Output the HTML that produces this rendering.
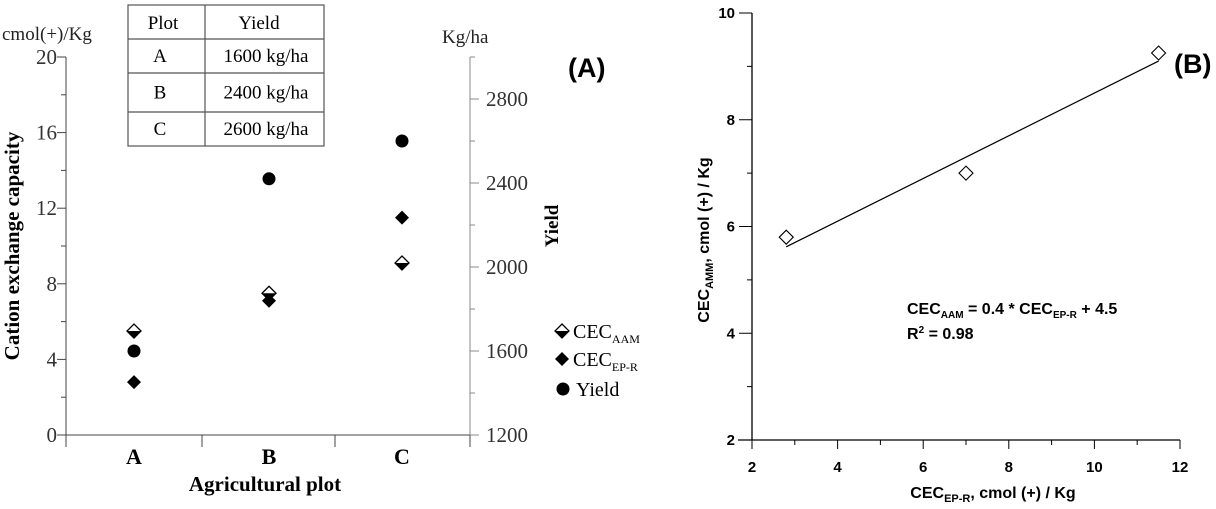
<!DOCTYPE html>
<html><head><meta charset="utf-8"><style>
body{margin:0;background:#fff;}
svg{display:block;}
.s{font-family:"Liberation Serif",serif;}
.a{font-family:"Liberation Sans",sans-serif;font-weight:bold;}
</style></head><body>
<svg id="c" width="1216" height="509" viewBox="0 0 1216 509" xmlns="http://www.w3.org/2000/svg">
<g id="pa"></g>
<g id="pb"></g>
</svg>
<script>
const cats=["A","B","C"];
const cecAAM=[5.5,7.5,9.1];
const cecEPR=[2.8,7.1,11.5];
const yieldVals=[1600,2420,2600];
const leftTicks=[0,4,8,12,16,20];
const rightTicks=[1200,1600,2000,2400,2800];
const tableRows=[["A","1600 kg/ha"],["B","2400 kg/ha"],["C","2600 kg/ha"]];
const bX=[2.8,7.0,11.5];
const bY=[5.8,7.0,9.25];
const bSlope=0.4, bIntercept=4.5;
const bXTicks=[2,4,6,8,10,12];
const bYTicks=[2,4,6,8,10];

const NS="http://www.w3.org/2000/svg";
function mk(p,t,a,txt){const e=document.createElementNS(NS,t);for(const k in a)e.setAttribute(k,a[k]);if(txt!==undefined)e.textContent=txt;p.appendChild(e);return e;}
const pa=document.getElementById('pa'), pb=document.getElementById('pb');

const L=66,R=470,T=57,B=435;
const yL=v=>B-(v/20)*(B-T);
const yR=v=>B-((v-1200)/1800)*(B-T);
const xC=i=>[134,269,402][i];
let e;
e=mk(pa,'line',{x1:L,y1:T,x2:L,y2:447,stroke:'#444','stroke-width':1});

e=mk(pa,'line',{x1:L,y1:B,x2:R,y2:B,stroke:'#444','stroke-width':1});

e=mk(pa,'line',{x1:R,y1:T,x2:R,y2:447,stroke:'#888','stroke-width':1});

[66,202,335,470].forEach(x=>mk(pa,'line',{x1:x,y1:B,x2:x,y2:447,stroke:'#444'}));
for(let v=0;v<=20;v+=2){mk(pa,'line',{x1:L-(v%4?5:9),y1:yL(v),x2:L,y2:yL(v),stroke:'#444'});}
leftTicks.forEach(v=>{e=mk(pa,'text',{x:57,y:yL(v)+7,'text-anchor':'end','font-size':21,class:'s',fill:'#333'},v);
});
for(let v=1200;v<=3000;v+=200){mk(pa,'line',{x1:R,y1:yR(v),x2:R+(v%400?5:9),y2:yR(v),stroke:'#888'});}
rightTicks.forEach(v=>{e=mk(pa,'text',{x:486,y:yR(v)+7,'font-size':21,class:'s',fill:'#333'},v);
});
cats.forEach((c,i)=>{e=mk(pa,'text',{x:xC(i),y:464,'text-anchor':'middle','font-size':22,'font-weight':'bold',class:'s'},c);
});
e=mk(pa,'text',{x:265,y:491,'text-anchor':'middle','font-size':21,'font-weight':'bold',class:'s'},'Agricultural plot');

e=mk(pa,'text',{x:0,y:0,transform:'translate(19,246) rotate(-90)','text-anchor':'middle','font-size':21,'font-weight':'bold',class:'s'},'Cation exchange capacity');

e=mk(pa,'text',{x:0,y:0,transform:'translate(558,226) rotate(-90)','text-anchor':'middle','font-size':19,'font-weight':'bold',class:'s'},'Yield');

e=mk(pa,'text',{x:2,y:40,'font-size':19,class:'s',fill:'#222'},'cmol(+)/Kg');

e=mk(pa,'text',{x:442,y:43,'font-size':19,class:'s',fill:'#222'},'Kg/ha');

e=mk(pa,'text',{x:568,y:77,'font-size':27,class:'a'},'(A)');


function halfDiamond(p,x,y,s,name){
  const g=mk(p,'g',{});
  mk(g,'polygon',{points:`${x-s},${y} ${x+s},${y} ${x},${y+s}`,fill:'#000'});
  mk(g,'polygon',{points:`${x},${y-s} ${x+s},${y} ${x},${y+s} ${x-s},${y}`,fill:'none',stroke:'#000','stroke-width':1.3});
}
function diamond(p,x,y,s,name){e=mk(p,'polygon',{points:`${x},${y-s} ${x+s},${y} ${x},${y+s} ${x-s},${y}`,fill:'#000'});
}
cecAAM.forEach((v,i)=>halfDiamond(pa,xC(i),yL(v),7,'cec-aam-point'));
cecEPR.forEach((v,i)=>diamond(pa,xC(i),yL(v),7,'cec-epr-point'));
yieldVals.forEach((v,i)=>{e=mk(pa,'circle',{cx:xC(i),cy:yR(v),r:6.5,fill:'#000'});
});

const lg=mk(pa,'g',{});
halfDiamond(lg,562,331,7,'legend-cec-aam-marker');
diamond(lg,562,359,7,'legend-cec-epr-marker');
e=mk(lg,'circle',{cx:563,cy:389,r:6.5,fill:'#000'});
let t=mk(lg,'text',{x:573,y:338,'font-size':20,class:'s'});t.innerHTML='CEC<tspan font-size="12" dy="5">AAM</tspan>';

t=mk(lg,'text',{x:573,y:366,'font-size':20,class:'s'});t.innerHTML='CEC<tspan font-size="12" dy="5">EP-R</tspan>';

t=mk(lg,'text',{x:576,y:396,'font-size':20,class:'s'},'Yield');


const tb=mk(pa,'g',{});
const rowsY=[5,39,73,112,146];
mk(tb,'rect',{x:128,y:5,width:196,height:141,fill:'#fff',stroke:'#555','stroke-width':1.2});
rowsY.slice(1,4).forEach(y=>mk(tb,'line',{x1:128,y1:y,x2:324,y2:y,stroke:'#555','stroke-width':1.2}));
mk(tb,'line',{x1:205,y1:5,x2:205,y2:146,stroke:'#555','stroke-width':1.2});
mk(tb,'text',{x:163,y:29,'text-anchor':'middle','font-size':19,class:'s'},'Plot');
mk(tb,'text',{x:259,y:29,'text-anchor':'middle','font-size':19,class:'s'},'Yield');
tableRows.forEach((r,i)=>{const y=(rowsY[i+1]+rowsY[i+2])/2+6;
e=mk(tb,'text',{x:160,y:y,'text-anchor':'middle','font-size':19,class:'s'},r[0]);

e=mk(tb,'text',{x:266,y:y,'text-anchor':'middle','font-size':19,class:'s'},r[1]);
});

const bL=752,bR=1180,bT=13,bB=440;
const bx=v=>bL+(v-2)/10*(bR-bL);
const by=v=>bB-(v-2)/8*(bB-bT);
e=mk(pb,'line',{x1:bL,y1:bT,x2:bL,y2:bB,stroke:'#000','stroke-width':1.3});

e=mk(pb,'line',{x1:738,y1:bB,x2:bR,y2:bB,stroke:'#000','stroke-width':1.3});

for(let v=2;v<=12;v+=1)mk(pb,'line',{x1:bx(v),y1:bB,x2:bx(v),y2:bB+(v%2?5:9),stroke:'#000'});
for(let v=2;v<=10;v+=1)mk(pb,'line',{x1:bL-(v%2?5:13),y1:by(v),x2:bL,y2:by(v),stroke:'#000'});
bXTicks.forEach(v=>{e=mk(pb,'text',{x:bx(v),y:472,'text-anchor':'middle','font-size':15,class:'a'},v);
});
bYTicks.forEach(v=>{e=mk(pb,'text',{x:735,y:by(v)+5,'text-anchor':'end','font-size':15,class:'a'},v);
});
t=mk(pb,'text',{x:993,y:498,'text-anchor':'middle','font-size':16,class:'a'});
t.innerHTML='CEC<tspan font-size="11" dy="4">EP-R</tspan><tspan dy="-4">, cmol (+) / Kg</tspan>';

t=mk(pb,'text',{x:0,y:0,transform:'translate(709,240) rotate(-90)','text-anchor':'middle','font-size':16,class:'a'});
t.innerHTML='CEC<tspan font-size="11" dy="4">AMM</tspan><tspan dy="-4">, cmol (+) / Kg</tspan>';

const x0=Math.min(...bX),x1=Math.max(...bX);
e=mk(pb,'line',{x1:bx(x0),y1:by(bSlope*x0+bIntercept),x2:bx(x1),y2:by(bSlope*x1+bIntercept),stroke:'#000','stroke-width':1.2});

bX.forEach((v,i)=>{const x=bx(v),y=by(bY[i]);
e=mk(pb,'polygon',{points:`${x},${y-7} ${x+7},${y} ${x},${y+7} ${x-7},${y}`,fill:'#fff',stroke:'#000','stroke-width':1.1});
});
t=mk(pb,'text',{x:907,y:314,'font-size':16,class:'a'});
t.innerHTML='CEC<tspan font-size="10" dy="4">AAM</tspan><tspan dy="-4"> = 0.4 * CEC</tspan><tspan font-size="10" dy="4">EP-R</tspan><tspan dy="-4"> + 4.5</tspan>';

t=mk(pb,'text',{x:907,y:339,'font-size':16,class:'a'});
t.innerHTML='R<tspan font-size="10" dy="-6">2</tspan><tspan dy="6"> = 0.98</tspan>';

e=mk(pb,'text',{x:1174,y:73,'font-size':27,class:'a'},'(B)');

</script>
</body></html>
